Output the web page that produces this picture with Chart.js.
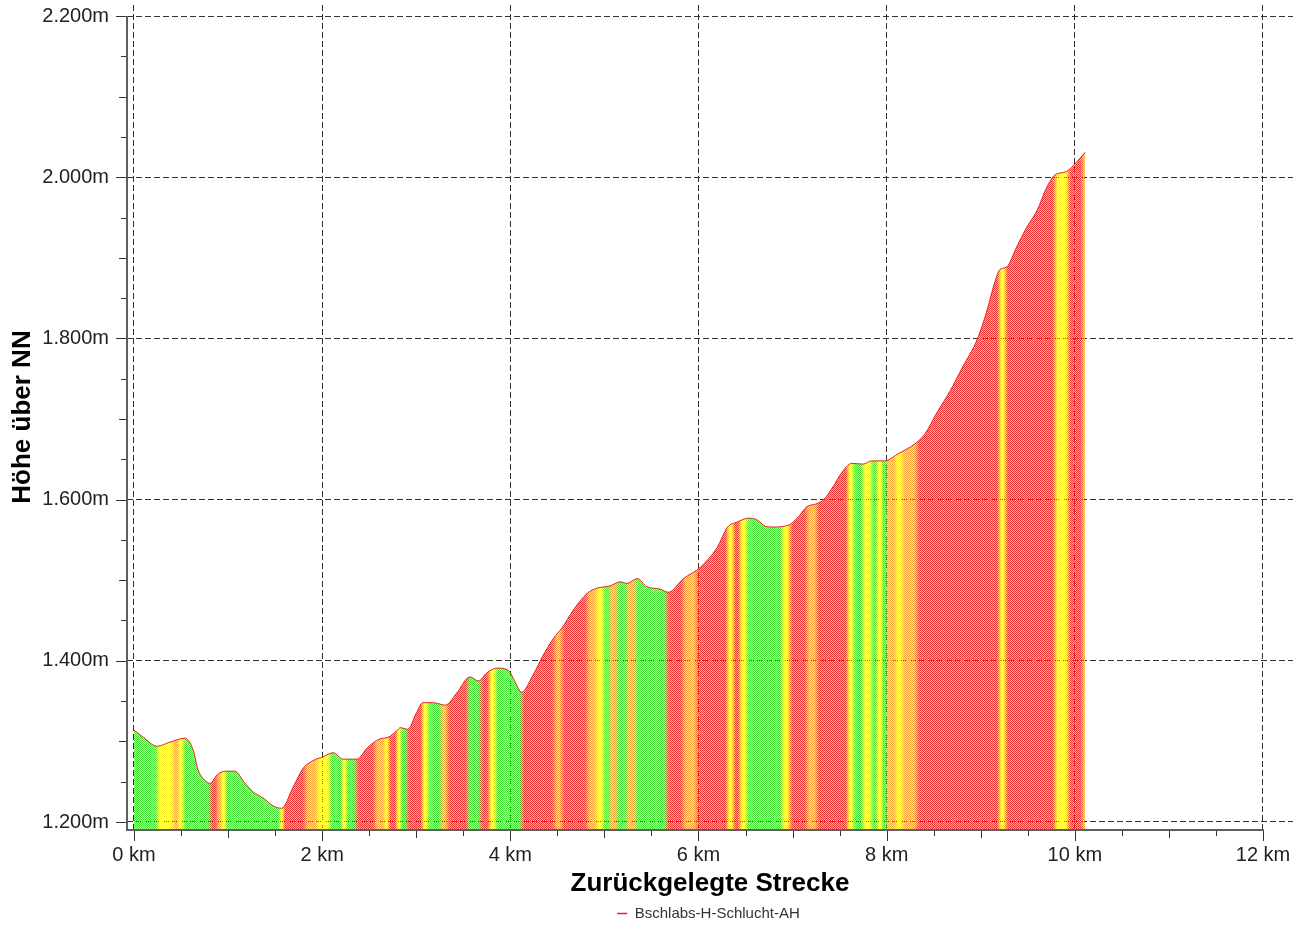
<!DOCTYPE html>
<html lang="de">
<head>
<meta charset="utf-8">
<title>Höhenprofil Bschlabs-H-Schlucht-AH</title>
<script src="https://cdn.jsdelivr.net/npm/chart.js@4.4.1/dist/chart.umd.min.js"></script>
<style>
  html, body { margin: 0; padding: 0; background: #fff; }
  #profil { display: block; }
</style>
</head>
<body>
<canvas id="profil" width="1309" height="926"></canvas>
<script>
// Höhenprofil, Werte
const streckeKm = [0, 0.10, 0.245, 0.38, 0.54, 0.63, 0.68, 0.75, 0.81, 0.88, 0.97, 1.07, 1.18, 1.27, 1.37, 1.48, 1.57,
  1.69, 1.80, 1.90, 2.01, 2.12, 2.22, 2.37, 2.48, 2.61, 2.70, 2.80, 2.83, 2.91, 3.00, 3.07, 3.18, 3.31, 3.43,
  3.57, 3.66, 3.75, 3.86, 3.98, 4.05, 4.12, 4.24, 4.35, 4.46, 4.55, 4.67, 4.82, 4.92, 5.06, 5.17, 5.24, 5.35,
  5.45, 5.59, 5.68, 5.84, 6.02, 6.20, 6.31, 6.41, 6.53, 6.62, 6.71, 6.79, 6.95, 7.05, 7.15, 7.26, 7.34, 7.43,
  7.52, 7.63, 7.75, 7.84, 7.98, 8.11, 8.32, 8.41, 8.53, 8.67, 8.81, 8.96, 9.06, 9.15, 9.20, 9.28, 9.38, 9.49,
  9.60, 9.70, 9.79, 9.91, 10.02, 10.11];
const hoeheM = [1314, 1305, 1294, 1299, 1304, 1289, 1265, 1252, 1248, 1258, 1263, 1263, 1248, 1237, 1230, 1220, 1217,
  1243, 1267, 1276, 1281, 1286, 1278, 1278, 1292, 1303, 1305, 1314, 1317, 1315, 1335, 1348, 1348, 1345, 1360,
  1380, 1375, 1385, 1391, 1388, 1374, 1361, 1382, 1407, 1428, 1441, 1463, 1484, 1490, 1493, 1498, 1496, 1502,
  1492, 1489, 1485, 1502, 1516, 1541, 1566, 1572, 1577, 1575, 1567, 1566, 1568, 1577, 1591, 1595, 1601, 1616,
  1633, 1645, 1644, 1648, 1648, 1656, 1671, 1682, 1707, 1734, 1765, 1798, 1832, 1870, 1885, 1889, 1913, 1938,
  1959, 1987, 2003, 2007, 2019, 2031];

// Steigungsstreifen: Beginn in km und Klasse (g = flach/bergab, y = leicht, o = mittel, r = steil)
const streifenKm = [0, 0.25, 0.42, 0.47, 0.52, 0.81, 0.89, 0.93, 0.97, 1.56, 1.58, 1.82, 1.95, 2.08, 2.22, 2.25,
  2.36, 2.56, 2.67, 2.70, 2.80, 2.83, 2.90, 3.07, 3.12, 3.27, 3.33, 3.55, 3.68, 3.78, 3.84, 4.12, 4.47, 4.55,
  4.82, 4.92, 4.99, 5.06, 5.13, 5.24, 5.33, 5.66, 5.84, 5.98, 6.31, 6.37, 6.44, 6.51, 6.89, 6.97, 7.15, 7.26,
  7.59, 7.64, 7.75, 7.84, 7.90, 7.95, 8.00, 8.10, 8.16, 8.32, 9.20, 9.26, 9.79, 9.93, 10.09];
const streifenKlasse = ['g', 'y', 'o', 'y', 'g', 'r', 'o', 'y', 'g', 'y', 'r', 'o', 'y', 'g', 'y', 'g',
  'r', 'o', 'y', 'r', 'y', 'g', 'r', 'y', 'g', 'o', 'r', 'g', 'r', 'y', 'g', 'r', 'o', 'r',
  'o', 'y', 'g', 'o', 'g', 'o', 'g', 'r', 'o', 'r', 'y', 'r', 'y', 'g', 'y', 'r', 'o', 'r',
  'y', 'g', 'y', 'g', 'y', 'g', 'o', 'y', 'o', 'r', 'y', 'r', 'y', 'r', 'o'];
const streifenEnde = 10.11;

const yTicks = [1200, 1400, 1600, 1800, 2000, 2200];
const yTickLabels = ['1.200m', '1.400m', '1.600m', '1.800m', '2.000m', '2.200m'];
const xTicks = [0, 2, 4, 6, 8, 10, 12];
const xTickLabels = ['0 km', '2 km', '4 km', '6 km', '8 km', '10 km', '12 km'];

const schrift = 'Liberation Sans';
const linienRot = 'rgb(235,30,30)';
const farben = { g: [70, 226, 55], y: [252, 244, 40], o: [250, 165, 60], r: [236, 50, 50] };

// Füllmuster: Farbverlauf nach Steigung, gerastert wie im Original
let fuellung = null;
let fuellKey = '';
function steigungsFuellung(chart) {
  const area = chart.chartArea;
  if (!area) return 'rgba(238,45,45,0.6)';
  const x = chart.scales.x;
  const key = area.left + '|' + area.right + '|' + area.bottom;
  if (fuellung && key === fuellKey) return fuellung;

  const cv = document.createElement('canvas');
  cv.width = chart.width;
  cv.height = chart.height;
  const c = cv.getContext('2d');
  const x0 = x.getPixelForValue(streifenKm[0]);
  const x1 = x.getPixelForValue(streifenEnde);
  const g = c.createLinearGradient(x0, 0, x1, 0);
  streifenKm.forEach((km, i) => {
    const a = x.getPixelForValue(km);
    const b = x.getPixelForValue(i + 1 < streifenKm.length ? streifenKm[i + 1] : streifenEnde);
    const m = Math.min(2.5, (b - a) / 3);
    const col = 'rgb(' + farben[streifenKlasse[i]].join(',') + ')';
    g.addColorStop(Math.min(1, Math.max(0, (a + m - x0) / (x1 - x0))), col);
    g.addColorStop(Math.min(1, Math.max(0, (b - m - x0) / (x1 - x0))), col);
  });
  c.fillStyle = g;
  c.fillRect(0, 0, cv.width, cv.height);

  // Schachbrett: jedes zweite Pixel stark aufgehellt
  const k = document.createElement('canvas');
  k.width = 2;
  k.height = 2;
  const kc = k.getContext('2d');
  kc.fillStyle = 'rgba(0,0,0,0.62)';
  kc.fillRect(1, 0, 1, 1);
  kc.fillRect(0, 1, 1, 1);
  c.globalCompositeOperation = 'destination-out';
  c.fillStyle = c.createPattern(k, 'repeat');
  c.fillRect(0, 0, cv.width, cv.height);

  fuellung = chart.ctx.createPattern(cv, 'no-repeat');
  fuellKey = key;
  return fuellung;
}

// Achsenlinien, Teilstriche und Lage der Legende
const achsenPlugin = {
  id: 'achsen',
  afterLayout(chart) {
    const lg = chart.legend;
    if (lg) {
      lg.left += 124;
      lg.top += 5;
      lg.bottom += 5;
    }
  },
  afterDatasetsDraw(chart) {
    const { ctx, chartArea: a, scales: { x, y } } = chart;
    ctx.save();
    ctx.strokeStyle = '#5f5f5f';
    ctx.lineWidth = 2;
    ctx.beginPath();
    ctx.moveTo(a.left, Math.round(y.getPixelForValue(2200)));
    ctx.lineTo(a.left, a.bottom + 1);
    ctx.lineTo(Math.round(x.getPixelForValue(12)) + 1, a.bottom + 1);
    ctx.stroke();

    ctx.lineWidth = 1;
    ctx.strokeStyle = '#333';
    y.ticks.forEach(t => {
      const len = t.value % 200 === 0 ? 10 : (t.value % 100 === 0 ? 7 : 5);
      const py = Math.round(y.getPixelForValue(t.value)) + 0.5;
      ctx.beginPath();
      ctx.moveTo(a.left - 1 - len, py);
      ctx.lineTo(a.left - 1, py);
      ctx.stroke();
    });
    x.ticks.forEach(t => {
      const len = t.value % 2 === 0 ? 10 : (t.value % 1 === 0 ? 7 : 5);
      const px = Math.round(x.getPixelForValue(t.value)) + 0.5;
      ctx.beginPath();
      ctx.moveTo(px, a.bottom + 2);
      ctx.lineTo(px, a.bottom + 2 + len);
      ctx.stroke();
    });
    ctx.restore();
  }
};

const punkte = streckeKm.map((km, i) => ({ x: km, y: hoeheM[i] }));

new Chart(document.getElementById('profil'), {
  type: 'line',
  data: {
    datasets: [{
      label: 'Bschlabs-H-Schlucht-AH',
      data: punkte,
      borderColor: linienRot,
      borderWidth: 1,
      pointRadius: 0,
      fill: 'start',
      cubicInterpolationMode: 'monotone',
      backgroundColor: ctx => steigungsFuellung(ctx.chart)
    }]
  },
  options: {
    responsive: false,
    animation: false,
    layout: { padding: { top: 5, right: 16, left: 0, bottom: 0 } },
    plugins: {
      legend: {
        position: 'bottom',
        labels: {
          usePointStyle: true,
          pointStyle: 'line',
          pointStyleWidth: 10,
          padding: 2,
          color: '#333',
          font: { family: schrift, size: 15 },
          generateLabels: chart => Chart.defaults.plugins.legend.labels.generateLabels(chart)
            .map(l => Object.assign(l, { strokeStyle: linienRot, lineWidth: 1.5 }))
        }
      },
      tooltip: { enabled: false }
    },
    scales: {
      x: {
        type: 'linear',
        min: -0.0744,
        max: 12.319,
        afterBuildTicks: s => {
          s.ticks = [];
          for (let v = 0; v <= 12; v += 0.5) s.ticks.push({ value: v });
        },
        afterFit: s => {
          s.height = 70;
          s.paddingLeft = 0;
          s.paddingRight = 0;
        },
        ticks: {
          autoSkip: false,
          maxRotation: 0,
          padding: 14,
          color: '#222',
          font: { family: schrift, size: 20 },
          callback: v => {
            const i = xTicks.indexOf(v);
            return i < 0 ? '' : xTickLabels[i];
          }
        },
        grid: {
          drawTicks: false,
          color: c => (c.tick && xTicks.includes(c.tick.value)) ? '#333' : 'rgba(0,0,0,0)'
        },
        border: { display: false, dash: [6, 3] },
        title: {
          display: true,
          text: 'Zurückgelegte Strecke',
          color: '#000',
          padding: { top: 0, bottom: 0 },
          font: { family: schrift, size: 26, weight: 'bold' }
        }
      },
      y: {
        min: 1191.31,
        max: 2213.65,
        afterBuildTicks: s => {
          s.ticks = [];
          for (let v = 1200; v <= 2200; v += 50) s.ticks.push({ value: v });
        },
        afterFit: s => {
          s.width = 127;
          s.paddingTop = 0;
          s.paddingBottom = 0;
        },
        ticks: {
          autoSkip: false,
          padding: 18,
          color: '#222',
          font: { family: schrift, size: 20 },
          callback: v => {
            const i = yTicks.indexOf(v);
            return i < 0 ? '' : yTickLabels[i];
          }
        },
        grid: {
          drawTicks: false,
          color: c => (c.tick && yTicks.includes(c.tick.value)) ? '#333' : 'rgba(0,0,0,0)'
        },
        border: { display: false, dash: [6, 3] },
        title: {
          display: true,
          text: 'Höhe über NN',
          color: '#000',
          padding: { top: 7, bottom: 0 },
          font: { family: schrift, size: 26, weight: 'bold' }
        }
      }
    }
  },
  plugins: [achsenPlugin]
});
</script>
</body>
</html>
